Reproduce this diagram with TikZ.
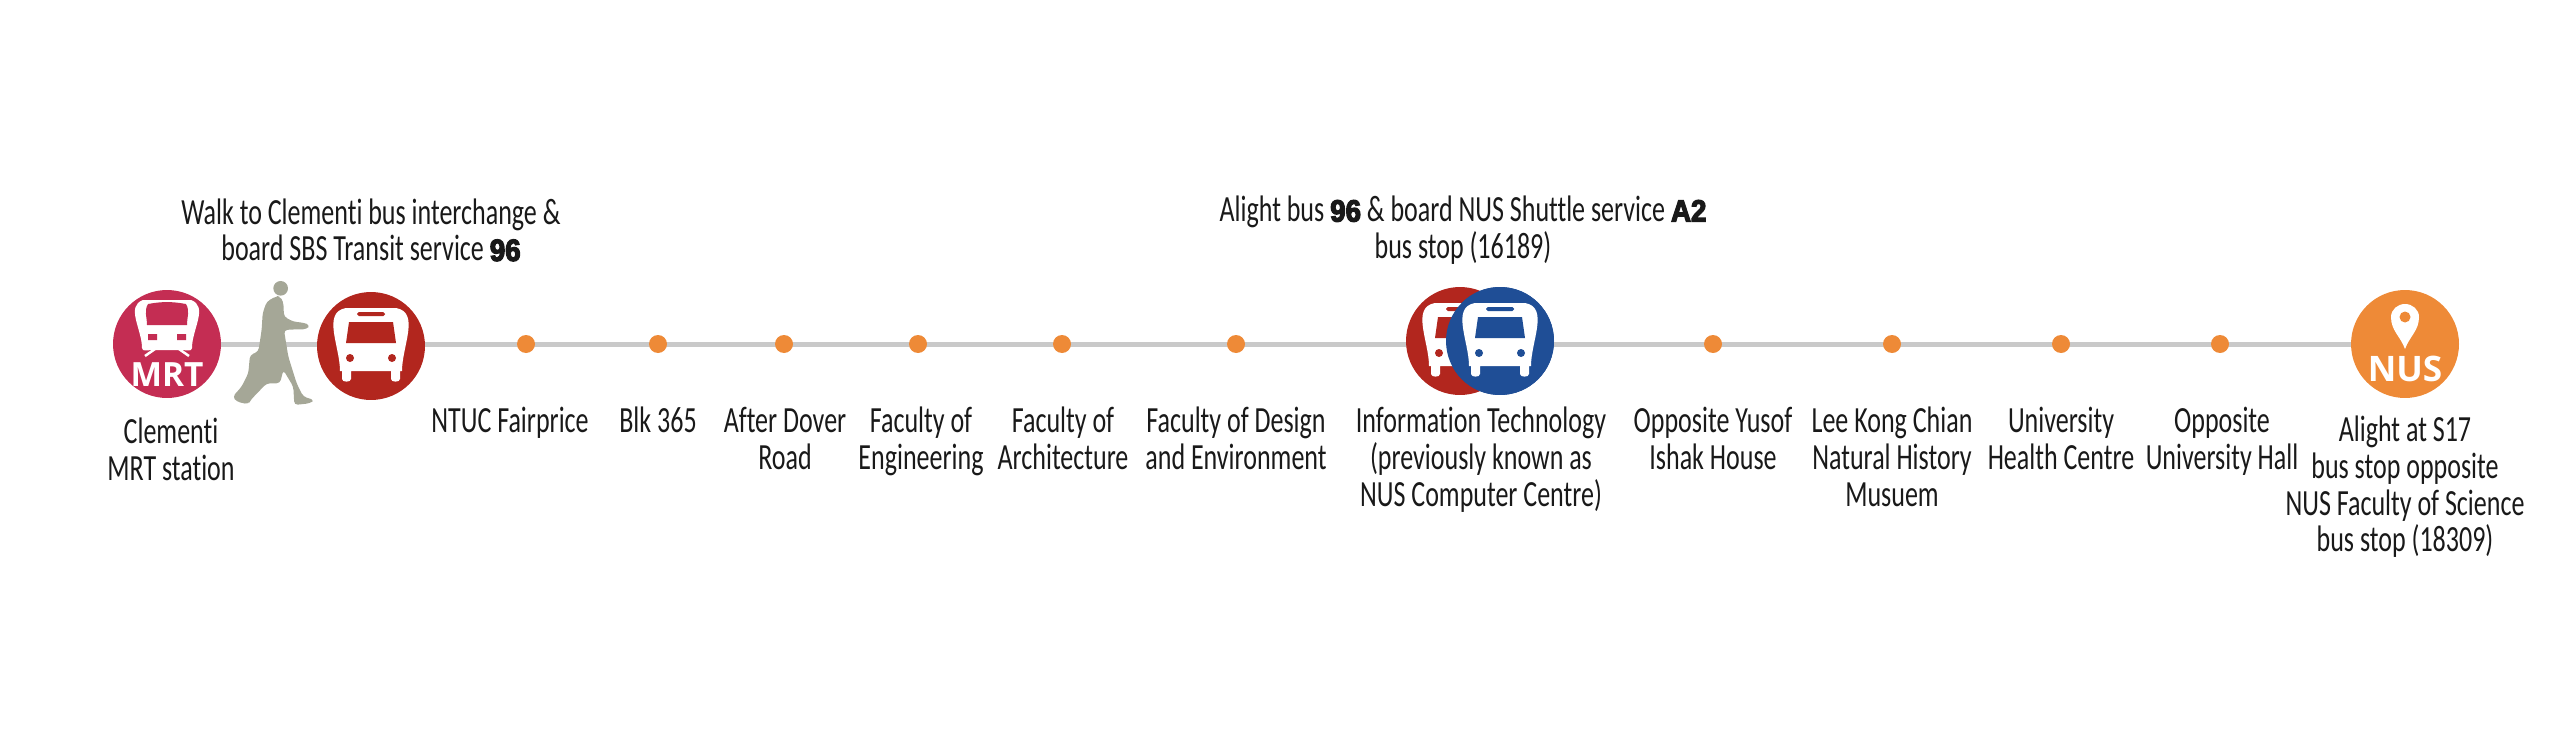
\documentclass[tikz,border=0pt]{standalone}
\usepackage{fontspec}
\usepackage{xcolor}
\usetikzlibrary{backgrounds}
\setmainfont[FakeStretch=0.705,Ligatures=NoCommon]{Carlito}
\newfontfamily\heavyfont[FakeBold=4,FakeStretch=0.9]{Liberation Sans Bold}
\newfontfamily\iconfont{Open Sans}
\definecolor{mrtred}{HTML}{C42D53}
\definecolor{busred}{HTML}{B2261E}
\definecolor{busblue}{HTML}{1F4E96}
\definecolor{nusorange}{HTML}{EE8A37}
\definecolor{walkgrey}{HTML}{A5A797}
\definecolor{trackgrey}{HTML}{C9C9C9}
\newcommand{\svc}[1]{{\heavyfont\fontsize{17.5}{20}\selectfont #1}}
\tikzset{
  track/.style={line width=0.1cm, trackgrey},
  stopdot/.style={circle, fill=nusorange, inner sep=0pt, minimum size=0.36cm},
  hub/.style={circle, inner sep=0pt, minimum size=2.16cm},
  stoplabel/.style={anchor=north, align=center, inner sep=0pt, text=black!90,
    font=\fontsize{21}{20.8}\selectfont},
  pics/busicon/.style={code={
    \fill[white] (-25,-38) to[out=0,in=180] (25,-38) to[out=-10,in=90] (31,25)
      -- (29,25) -- (29,33) to[out=-90,in=-90] (20,33) -- (20,25) -- (-20,25) -- (-20,33)
      to[out=-90,in=-90] (-29,33) -- (-29,25) -- (-31,25) to[out=90,in=190] cycle;
    \fill[#1] (-22,-24) -- (22,-24) -- (25,-3) -- (-25,-3) -- cycle;
    \fill[#1, rounded corners=1pt] (-14,-34) rectangle (14,-30);
    \fill[#1] (-21,12) circle (4) (21,12) circle (4);
  }}
}
\begin{document}
\begin{tikzpicture}[x=0.02cm, y=-0.02cm]
  \useasboundingbox (0,0) rectangle (2560,730);

  % big stops
  \node[hub, fill=mrtred] (mrt) at (167,344) {};
  \node[hub, fill=busred] (bus96) at (371,346) {};
  \node[hub, fill=busred] (busA) at (1460,341) {};
  \node[hub, fill=busblue] (busB) at (1500,341) {};
  \node[hub, fill=nusorange] (nus) at (2405,344) {};

  % small stops
  \foreach \n/\x in {s1/526, s2/658, s3/784, s4/918, s5/1062, s6/1236, s7/1713, s8/1892, s9/2061, s10/2220}
    \node[stopdot] (\n) at (\x,344) {};

  \begin{pgfonlayer}{background}
    \draw[track] (mrt) -- (nus);
  \end{pgfonlayer}

  % icons
  \pic at (bus96) {busicon=busred};
  \begin{scope}
    \clip (1400,280) rectangle (1500,400);
    \pic at (busA) {busicon=busred};
  \end{scope}
  \node[hub, fill=busblue] at (busB) {};
  \pic at (busB) {busicon=busblue};

  % train
  \begin{scope}[shift={(mrt)}]
    \fill[white] (-24,-44) to[out=0,in=180] (24,-44) to[out=-20,in=90] (25,4)
      to[out=-90,in=0] (15,6) -- (-15,6) to[out=180,in=-90] (-25,4) to[out=90,in=200] cycle;
    \fill[mrtred] (-19,-40) to[out=10,in=170] (19,-40) to[out=-60,in=90] (20,-19) -- (-20,-19)
      to[out=90,in=240] cycle;
    \fill[mrtred] (-19,-10) rectangle (-10,-4) (10,-10) rectangle (19,-4);
    \draw[white, line width=0.05cm] (-12,5) -- (-22,12) (12,5) -- (22,12);
    \node[inner sep=0pt, text=white, font=\iconfont\bfseries\fontsize{19}{20}\selectfont] (mrttext) at (0,31) {MRT};
  \end{scope}

  % pin
  \fill[white] (2405,349) to[out=110,in=-90] (2391,317) to[out=90,in=180] (2405,304)
    to[out=0,in=90] (2419,317) to[out=-90,in=70] cycle;
  \fill[nusorange] (2405,317) circle (5.5);
  \node[inner sep=0pt, text=white, font=\iconfont\bfseries\fontsize{20}{20}\selectfont] (nustext) at (2405,369) {NUS};

  % walker
  \begin{scope}[shift={(80,170)}, x=0.00667cm, y=-0.00667cm]
    \fill[walkgrey] (602,355) circle (22);
    \fill[walkgrey, rounded corners=2pt] (590,378) -- (560,395) -- (548,430) -- (545,480) -- (535,545)
      -- (510,555) -- (505,610) -- (485,650) -- (458,680) -- (470,695) -- (505,703) -- (512,690)
      -- (560,640) -- (600,640) -- (610,600) -- (640,650) -- (643,705) -- (690,700) -- (703,690)
      -- (670,680) -- (650,640) -- (625,560) -- (612,480) -- (650,478) -- (680,478) -- (690,465)
      -- (670,458) -- (640,455) -- (612,440) -- (610,395) -- (600,380) -- cycle;
  \end{scope}

  % labels
  \node[stoplabel, anchor=center] (walktext) at (371,230) {Walk to Clementi bus interchange \&\\board SBS Transit service \svc{96}};
  \node[stoplabel, anchor=center] (alighttext) at (1463,230) {Alight bus \svc{96} \& board NUS Shuttle service \svc{A2}\\bus stop (16189)};
  \node[stoplabel] (l0) at (171,418) {Clementi\\MRT station};
  \node[stoplabel] (l1) at (510,407) {NTUC Fairprice};
  \node[stoplabel] (l2) at (658,407) {Blk 365};
  \node[stoplabel] (l3) at (785,407) {After Dover\\Road};
  \node[stoplabel] (l4) at (921,407) {Faculty of\\Engineering};
  \node[stoplabel] (l5) at (1063,407) {Faculty of\\Architecture};
  \node[stoplabel] (l6) at (1236,407) {Faculty of Design\\and Environment};
  \node[stoplabel] (l7) at (1481,407) {Information Technology\\(previously known as\\NUS Computer Centre)};
  \node[stoplabel] (l8) at (1713,407) {Opposite Yusof\\Ishak House};
  \node[stoplabel] (l9) at (1892,407) {Lee Kong Chian\\Natural History\\Musuem};
  \node[stoplabel] (l10) at (2061,407) {University\\Health Centre};
  \node[stoplabel] (l11) at (2222,407) {Opposite\\University Hall};
  \node[stoplabel] (l12) at (2405,416) {Alight at S17\\bus stop opposite\\NUS Faculty of Science\\bus stop (18309)};
\end{tikzpicture}
\end{document}
